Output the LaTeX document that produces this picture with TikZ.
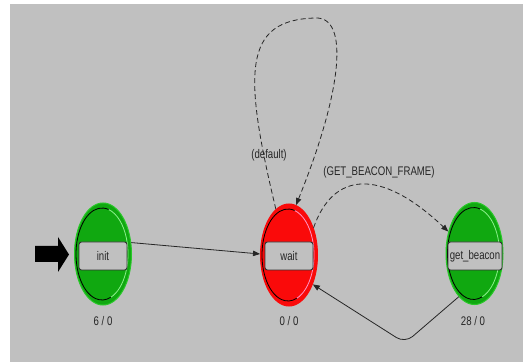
\documentclass[tikz,border=0pt]{standalone}
\usepackage{fontspec}
\newfontfamily\labfont[FakeStretch=0.77]{Liberation Sans}
\usetikzlibrary{shapes.geometric,arrows.meta}
\definecolor{bggray}{RGB}{192,192,192}
\definecolor{stgreen}{RGB}{16,168,16}
\definecolor{stgreenedge}{RGB}{40,200,40}
\definecolor{stgreenlight}{RGB}{140,240,140}
\definecolor{stred}{RGB}{250,10,10}
\definecolor{stredlight}{RGB}{255,150,200}
\tikzset{
  state/.style={ellipse, minimum width=57pt, minimum height=102pt, inner sep=0pt, line width=1pt},
  greenstate/.style={state, fill=stgreen, draw=stgreenedge},
  redstate/.style={state, fill=stred, draw=stred},
  lblbox/.style={rectangle, rounded corners=2.5pt, draw=black!80, line width=0.9pt, fill=bggray,
    minimum width=48pt, minimum height=28pt, inner sep=1pt, font=\labfont\fontsize{12.5}{14}\selectfont, text=black!85},
  count/.style={font=\labfont\fontsize{12.5}{14}\selectfont, text=black!85, inner sep=0pt},
  tlabel/.style={font=\labfont\fontsize{12.5}{14}\selectfont, text=black!85, inner sep=0pt},
  trans/.style={line width=0.8pt, black!85, -{Triangle[length=7pt,width=5.5pt]}},
  dtrans/.style={trans, dash pattern=on 5pt off 3pt},
}
\begin{document}
\begin{tikzpicture}[x=1pt,y=1pt]
\useasboundingbox (0,0) rectangle (523,362);
\fill[bggray] (10,0) rectangle (523,358);

% states
\node[greenstate] (init) at (103,108) {};
\node[redstate] (wait) at (289,107) {};
\node[greenstate] (gb) at (474.5,108.5) {};

% inner rings
\foreach \n/\lt in {init/stgreenlight, wait/stredlight, gb/stgreenlight}{
  \draw[black, line width=0.8pt] ([xshift=-1pt]\n.center) ++(75:26 and 46) arc[start angle=75, end angle=290, x radius=26, y radius=46];
  \draw[\lt, line width=0.8pt] ([xshift=-1pt]\n.center) ++(-70:26 and 46) arc[start angle=-70, end angle=75, x radius=26, y radius=46];
}

% label boxes
\node[lblbox] (initlbl) at (103,106) {init};
\node[lblbox] (waitlbl) at (289,106) {wait};
\node[lblbox, minimum width=54pt] (gblbl) at (475,106) {get\_beacon};

% counts
\node[count] (initcnt) at (103,41) {6 / 0};
\node[count] (waitcnt) at (289,41) {0 / 0};
\node[count] (gbcnt) at (473,41) {28 / 0};

% initial arrow
\fill[black] (35,116) -- (58,116) -- (58,125) -- (69,107.5) -- (58,90) -- (58,100) -- (35,100) -- cycle;

% transitions
\draw[trans] (init.22) -- (wait.178);
\draw[dtrans] (wait.48) .. controls (333,190) and (380,195) .. (gb.140);
\node[tlabel] (gbflbl) at (379,190) {(GET\_BEACON\_FRAME)};
\coordinate (looptop) at (315,344);
\draw[dtrans] (wait.106) .. controls (243,290) and (243,342) .. (looptop)
   .. controls (350,346) and (342,270) .. (wait.82);
\node[tlabel] (deflbl) at (269,207) {(default)};
\coordinate (bottom) at (405,19);
\draw[trans, rounded corners=10pt] (gb.250) -- (bottom) -- (wait.309);
\end{tikzpicture}
\end{document}
